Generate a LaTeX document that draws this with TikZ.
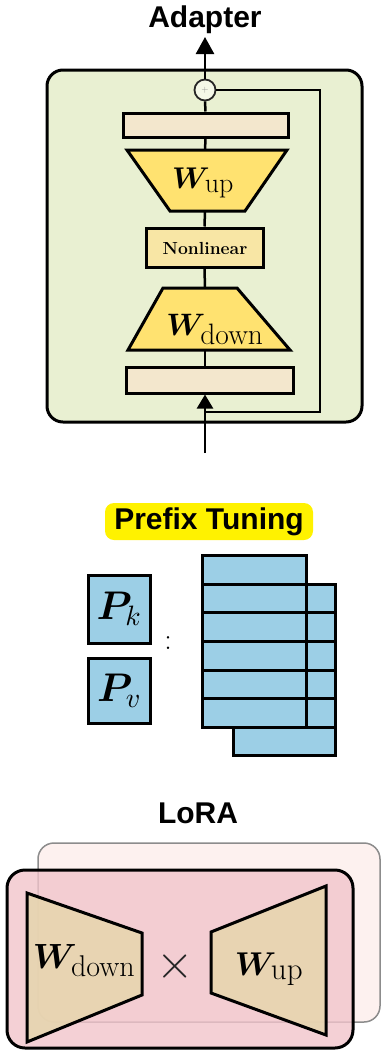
\documentclass[tikz,border=0pt]{standalone}
\usepackage{amsmath}
\usepackage{bm}
\usepackage{fontspec}
\DeclareFontShape{OML}{cmm}{m}{it}{<->cmmi10}{}
\DeclareFontShape{OML}{cmm}{b}{it}{<->cmmib10}{}
\DeclareFontShape{OMS}{cmsy}{m}{n}{<->cmsy10}{}
\DeclareFontShape{OMS}{cmsy}{b}{n}{<->cmbsy10}{}
\newfontfamily\titlefont{Liberation Sans}
\usetikzlibrary{arrows.meta}
\definecolor{adbg}{RGB}{233,240,210}
\definecolor{beige}{RGB}{243,231,205}
\definecolor{ylw}{RGB}{255,226,112}
\definecolor{nlbox}{RGB}{248,230,165}
\definecolor{pblue}{RGB}{156,207,230}
\definecolor{lpink}{RGB}{241,196,203}
\definecolor{bpink}{RGB}{253,241,239}
\definecolor{tanfill}{RGB}{231,213,175}
\newcommand\Wlab[4]{{\fontsize{#1}{#1}\selectfont$\bm{W}_{\text{\fontsize{#2}{#2}\selectfont #3}}$}}
\tikzset{
  ttl/.style={font={\fontsize{30}{30}\selectfont\titlefont\bfseries}, anchor=base, inner sep=0pt},
  conn/.style={line width=2.5pt, draw=black},
  skipline/.style={line width=2pt, draw=black},
  boxline/.style={draw=black, line width=3pt, inner sep=0pt},
  shapeline/.style={draw=black, line width=3pt, line join=miter},
  rowbox/.style={boxline, fill=pblue, minimum height=28.6pt},
  lbl/.style={anchor=base, inner sep=0pt},
}
\begin{document}
\begin{tikzpicture}[x=1pt,y=-1pt]
\useasboundingbox (0,0) rectangle (383,1053);

% ---------------- Adapter ----------------
\node[ttl] (adtitle) at (205,27) {Adapter};
\node[boxline, fill=adbg, rounded corners=16pt, minimum width=315pt, minimum height=352pt] (adbox) at (204.5,246) {};

\node[circle, draw=black!85, fill=adbg!50!white, line width=1.8pt, minimum size=21pt, inner sep=0pt,
      font=\fontsize{9}{9}\selectfont, text=black!45] (plus) at (205,90) {+};
\node[boxline, fill=beige, minimum width=165pt, minimum height=24pt] (toprect) at (205.5,125) {};

\coordinate (upTL) at (127,150); \coordinate (upTR) at (287,150);
\coordinate (upBR) at (245,211); \coordinate (upBL) at (170,211);
\coordinate (upTop) at (205,150); \coordinate (upBot) at (205,211);
\draw[shapeline, fill=ylw] (upTL) -- (upTR) -- (upBR) -- (upBL) -- cycle;
\node[lbl] (wuplbl) at (203,188) {\Wlab{30}{28}{up}{}};

\node[boxline, fill=nlbox, minimum width=117pt, minimum height=39pt] (nonlin) at (204.5,247.5) {};
\node[lbl, font={\fontsize{17.5}{17.5}\selectfont\bfseries}] (nonlinlbl) at (205,254) {Nonlinear};

\coordinate (dnTL) at (163,288); \coordinate (dnTR) at (237,288);
\coordinate (dnBR) at (290,350); \coordinate (dnBL) at (128,350);
\coordinate (dnTop) at (205,288); \coordinate (dnBot) at (205,350);
\draw[shapeline, fill=ylw] (dnTL) -- (dnTR) -- (dnBR) -- (dnBL) -- cycle;
\node[lbl] (wdnlbl) at (215,335) {\Wlab{31}{29.5}{down}{}};

\node[boxline, fill=beige, minimum width=167pt, minimum height=26pt] (botrect) at (209.5,380) {};

\draw[conn] (plus.south) -- (toprect.north);
\draw[conn] (toprect.south) -- (upTop);
\draw[conn] (upBot) -- (nonlin.north);
\draw[conn] (nonlin.south) -- (dnTop);
\draw[conn] (dnBot) -- (botrect.north -| dnBot);

\coordinate (outtip) at (205,37);
\coordinate (inbase) at (205,453);
\coordinate (skA) at (320,90);
\coordinate (skB) at (320,412);
\coordinate (skC) at (205,412);
\draw[conn, -{Triangle[length=17pt,width=18pt]}] (plus.north) -- (outtip);
\draw[conn, -{Triangle[length=14pt,width=16pt]}] (inbase) -- (botrect.south -| inbase);
\draw[skipline] (plus.east) -- (skA) -- (skB) -- (skC);

% ---------------- Prefix Tuning ----------------
\node[fill=yellow, rounded corners=9pt, minimum width=208pt, minimum height=37pt, inner sep=0pt,
      font={\fontsize{30}{30}\selectfont\titlefont\bfseries}] (pttitle) at (209,521.5) {Prefix Tuning};

\node[boxline, fill=pblue, minimum width=62pt, minimum height=68pt, font=\fontsize{40}{40}\selectfont] (pk) at (119,609) {$\bm{P}_k$};
\node[boxline, fill=pblue, minimum width=62pt, minimum height=65pt, font=\fontsize{40}{40}\selectfont] (pv) at (119,690.5) {$\bm{P}_v$};
\node[font=\fontsize{30}{30}\selectfont, inner sep=0pt] (colon) at (168,643) {:};

\foreach \i in {0,...,5} {
  \node[rowbox, minimum width=102pt] (b\i) at (284,598.6+28.6*\i) {};
}
\foreach \i in {0,...,5} {
  \node[rowbox, minimum width=104pt] (f\i) at (254,570+28.6*\i) {};
}

% ---------------- LoRA ----------------
\node[ttl] (loratitle) at (198,823) {LoRA};
\node[draw=black!45, line width=1.5pt, fill=bpink, rounded corners=16pt, minimum width=342pt, minimum height=179pt, inner sep=0pt] (lback) at (209,932.5) {};
\node[boxline, fill=lpink, fill opacity=0.8, rounded corners=18pt, minimum width=346pt, minimum height=178pt] (lfront) at (180,959) {};

\coordinate (ldA) at (27,893); \coordinate (ldB) at (142,933);
\coordinate (ldC) at (142,995); \coordinate (ldD) at (27,1042);
\draw[shapeline, fill=tanfill, fill opacity=0.9] (ldA) -- (ldB) -- (ldC) -- (ldD) -- cycle;
\coordinate (luA) at (211,932); \coordinate (luB) at (326,886);
\coordinate (luC) at (326,1035); \coordinate (luD) at (211,993);
\draw[shapeline, fill=tanfill, fill opacity=0.9] (luA) -- (luB) -- (luC) -- (luD) -- cycle;

\node[lbl] (ldlbl) at (84,968) {\Wlab{35}{30}{down}{}};
\node[lbl] (lulbl) at (269,975) {\Wlab{33}{31}{up}{}};
\node[font=\fontsize{48}{48}\selectfont, inner sep=0pt, text=black!85] (times) at (175,966) {$\times$};
\end{tikzpicture}
\end{document}
